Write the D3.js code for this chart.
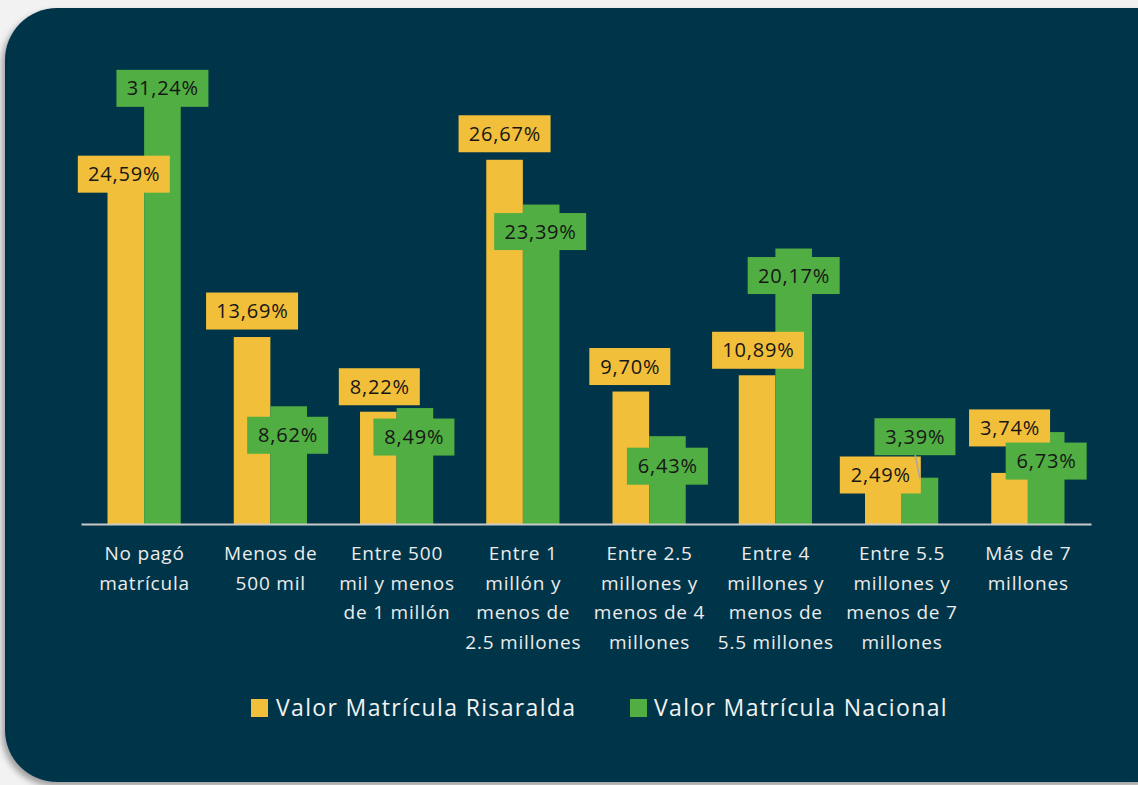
<!DOCTYPE html>
<html><head><meta charset="utf-8">
<script src="https://cdn.jsdelivr.net/npm/d3@7"></script>
<style>
html,body{margin:0;padding:0;background:#f2f2f2;}
svg{display:block;}
</style></head>
<body>
<svg id="c" width="1138" height="785"></svg>
<script>
const categories = [
  ["No pagó","matrícula"],
  ["Menos de","500 mil"],
  ["Entre 500","mil y menos","de 1 millón"],
  ["Entre 1","millón y","menos de","2.5 millones"],
  ["Entre 2.5","millones y","menos de 4","millones"],
  ["Entre 4","millones y","menos de","5.5 millones"],
  ["Entre 5.5","millones y","menos de 7","millones"],
  ["Más de 7","millones"]
];
const seriesNames = ["Valor Matrícula Risaralda","Valor Matrícula Nacional"];
const risaralda = [24.59, 13.69, 8.22, 26.67, 9.70, 10.89, 2.49, 3.74];
const nacional  = [31.24, 8.62, 8.49, 23.39, 6.43, 20.17, 3.39, 6.73];
const colors = ["#F2BF3B", "#50AE42"];

// label offsets (style config): [dx, dy] of label box centre from bar top centre
const nudgeR = [[-2,-14],[0,-26],[1,-25],[0,-26],[-1,-25],[1,-25],[-3,-15],[0,-45]];
const nudgeN = [[0,-9],[-1,29],[-1,29],[-1,27],[0,30],[0,27],[-5,-41],[0,29]];

const svg = d3.select("#c");
const defs = svg.append("defs");
const f = defs.append("filter").attr("id","sh").attr("x","-5%").attr("y","-5%").attr("width","115%").attr("height","115%");
f.append("feDropShadow").attr("dx",-3).attr("dy",4).attr("stdDeviation",3).attr("flood-color","#000").attr("flood-opacity",0.35);

svg.append("rect").attr("x",5).attr("y",8).attr("width",1185).attr("height",774)
  .attr("rx",52).attr("ry",52).attr("fill","#02364A").attr("filter","url(#sh)");

const x0 = d3.scaleBand().domain(d3.range(categories.length)).range([81,1091]).paddingInner(0.42).paddingOuter(0.21);
const x1 = d3.scaleBand().domain([0,1]).range([0,x0.bandwidth()]);
const y = d3.scaleLinear().domain([0,35]).range([524,46]);

const font = "'Open Sans', sans-serif";

const data = [risaralda, nacional];
const nudges = [nudgeR, nudgeN];

data.forEach((vals,s)=>{
  svg.append("g").selectAll("rect").data(vals).join("rect")
    .attr("x",(d,i)=>x0(i)+x1(s))
    .attr("y",d=>y(d))
    .attr("width",x1.bandwidth())
    .attr("height",d=>y(0)-y(d))
    .attr("fill",colors[s]);
});

const axisG = svg.append("g").attr("transform",`translate(0,${y(0)})`)
  .call(d3.axisBottom(x0).tickSize(0).tickFormat(""));
axisG.select(".domain").attr("stroke","#c9c9c9").attr("stroke-width",2);

categories.forEach((lines,i)=>{
  const cx = x0(i)+x0.bandwidth()/2 + 0.4;
  const t = svg.append("text").attr("x",cx).attr("y",560)
    .attr("text-anchor","middle").attr("fill","#ececec")
    .attr("font-family",font).attr("font-size",19).attr("letter-spacing",0.8);
  lines.forEach((l,k)=>t.append("tspan").attr("x",cx).attr("dy",k===0?0:29.5).text(l));
});

const fmt = v => v.toFixed(2).replace(".",",")+"%";
data.forEach((vals,s)=>{
  vals.forEach((v,i)=>{
    const bx = x0(i)+x1(s)+x1.bandwidth()/2;
    const by = y(v);
    const cx = bx + nudges[s][i][0];
    const cy = by + nudges[s][i][1];
    const txt = fmt(v);
    const w = txt.length===6 ? 92 : 81;
    if (s===1 && i===6) {
      svg.append("line").attr("x1",cx).attr("y1",cy+17).attr("x2",bx).attr("y2",by+1)
        .attr("stroke","#a6a6a6").attr("stroke-width",1.5);
    }
    const g = svg.append("g");
    g.append("rect").attr("x",cx-w/2).attr("y",cy-18.5).attr("width",w).attr("height",37)
      .attr("fill",colors[s]);
    g.append("text").attr("x",cx+0.4).attr("y",cy+7).attr("text-anchor","middle")
      .attr("font-family",font).attr("font-size",20).attr("letter-spacing",0.8)
      .attr("fill","#161616").text(txt);
  });
});

const leg = [{x:251, tx:276},{x:630, tx:654}];
seriesNames.forEach((n,s)=>{
  svg.append("rect").attr("x",leg[s].x).attr("y",699).attr("width",17).attr("height",18).attr("fill",colors[s]);
  svg.append("text").attr("x",leg[s].tx).attr("y",716).attr("fill","#f2f2f2")
    .attr("font-family",font).attr("font-size",23).attr("letter-spacing",1.35).text(n);
});
</script>
</body></html>
